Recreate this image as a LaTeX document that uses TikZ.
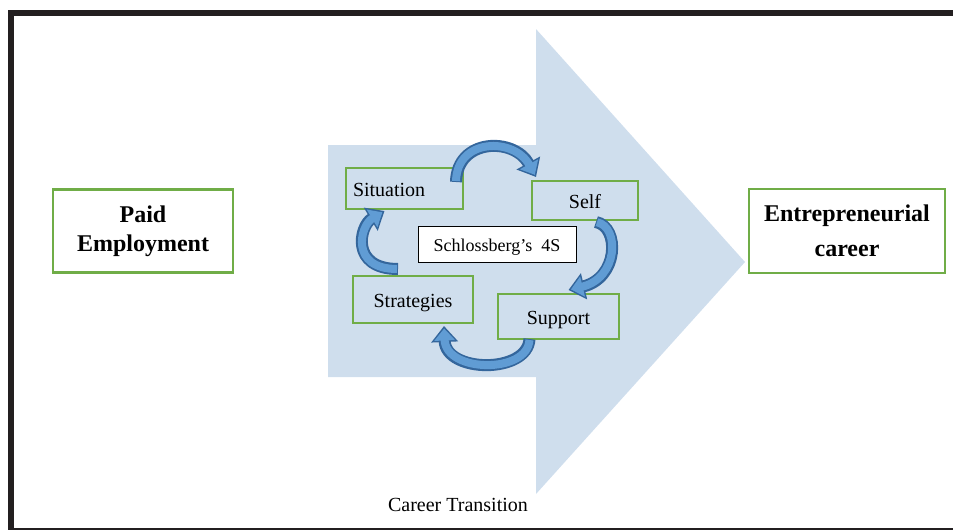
\documentclass[tikz,border=0pt]{standalone}
\usepackage{fontspec}
\setmainfont{Liberation Serif}
\usetikzlibrary{arrows.meta}

\definecolor{verde}{RGB}{112,173,71}
\definecolor{flecha}{RGB}{207,222,237}
\definecolor{ciclo}{RGB}{96,156,212}
\definecolor{cicloborde}{RGB}{52,102,156}
\definecolor{marco}{RGB}{35,31,32}

\begin{document}
\begin{tikzpicture}[x=1pt, y=-1pt,
    caja/.style={draw=verde, line width=2.5pt, fill=white, inner sep=0pt, align=center,
        font=\bfseries\fontsize{24}{29}\selectfont},
    etapa/.style={draw=verde, line width=2pt, inner sep=0pt, text height=16pt, text depth=0pt,
        font=\fontsize{20}{24}\selectfont},
    ciclofondo/.style={draw=cicloborde, line width=12pt, -{Triangle[length=16pt,width=26pt]}},
    ciclofrente/.style={draw=ciclo, line width=8pt, shorten >=2.5pt, shorten <=1pt,
        -{Triangle[length=12pt,width=20pt]}}]
        % ~~~~ Marco ~~~~%
        \clip (0,0) rectangle (953,530);
        \draw[marco, line width=5.5pt] (11,13) rectangle (975,531);

        % ~~~~ Flecha grande de la transicion ~~~~%
        \fill[flecha] (328,145) -- (536,145) -- (536,29) -- (745,262)
            -- (536,494) -- (536,377) -- (328,377) -- cycle;
        \node[font=\fontsize{20}{24}\selectfont] (transicion) at (458,505) {Career Transition};

        % ~~~~ Cajas de los extremos ~~~~%
        \node[caja, minimum width=180pt, minimum height=83pt] (paid) at (143,231) {Paid\\Employment};
        \node[caja, minimum width=196pt, minimum height=84pt, font=\bfseries\fontsize{24}{35}\selectfont]
            (entre) at (847,231) {Entrepreneurial\\career};

        % ~~~~ Las cuatro S ~~~~%
        \node[etapa, text width=103pt, inner xsep=7pt, minimum height=41pt, align=left]
            (situation) at (404.5,188.5) {Situation};
        \node[etapa, minimum width=106pt, minimum height=39pt] (self) at (585,200.5) {Self};
        \node[etapa, minimum width=120pt, minimum height=47pt] (strategies) at (413,299.5) {Strategies};
        \node[etapa, minimum width=121pt, minimum height=45pt] (support) at (558.5,316.5) {Support};
        \node[draw=black, line width=0.8pt, fill=white, minimum width=158pt, minimum height=36pt,
            text height=14pt, text depth=0pt, font=\fontsize{18}{22}\selectfont]
            (cuatro) at (497,244) {Schlossberg’s\ \ 4S};

        % ~~~~ Flechas del ciclo ~~~~%
        \foreach \capa in {ciclofondo, ciclofrente} {
            \draw[\capa] ([xshift=-8pt,yshift=-15pt]situation.north east)
                .. controls +(1,-44) and +(-22,-40) .. ([xshift=5pt,yshift=3pt]self.north west);
            \draw[\capa] ([xshift=11pt,yshift=-1pt]self.south)
                .. controls +(24,5) and +(50,-12) .. ([xshift=10pt,yshift=3pt]support.north);
            \draw[\capa] ([xshift=-29pt,yshift=1pt]support.south)
                .. controls +(-2,35) and +(2,47) .. ([xshift=-30pt,yshift=-2pt]strategies.south east);
            \draw[\capa] ([xshift=-15pt,yshift=6pt]strategies.north)
                .. controls +(-48,0) and +(-25,15) .. ([xshift=-20pt,yshift=-1pt]situation.south);
        }
\end{tikzpicture}
\end{document}
